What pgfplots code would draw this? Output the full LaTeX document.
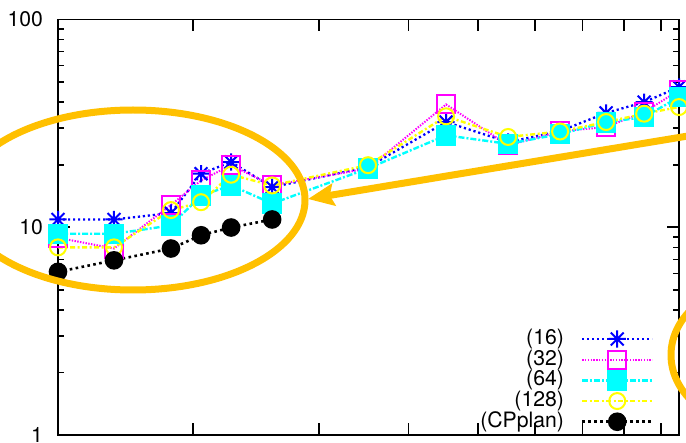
\documentclass[border=0pt]{standalone}
\usepackage{pgfplots}
\pgfplotsset{compat=1.18}
\usepackage{fontspec}
\setmainfont{TeX Gyre Heros}
\usetikzlibrary{arrows.meta}
\definecolor{orng}{RGB}{255,192,0}
\definecolor{gpblue}{RGB}{0,0,255}
\definecolor{gpmag}{RGB}{255,0,255}
\definecolor{gpcyan}{RGB}{0,255,255}
\definecolor{gpyel}{RGB}{255,255,0}
\pgfdeclareplotmark{gpstar}{%
  \pgfpathmoveto{\pgfqpoint{-\pgfplotmarksize}{0pt}}%
  \pgfpathlineto{\pgfqpoint{\pgfplotmarksize}{0pt}}%
  \pgfpathmoveto{\pgfqpoint{0pt}{-\pgfplotmarksize}}%
  \pgfpathlineto{\pgfqpoint{0pt}{\pgfplotmarksize}}%
  \pgfpathmoveto{\pgfqpoint{-.75\pgfplotmarksize}{-.75\pgfplotmarksize}}%
  \pgfpathlineto{\pgfqpoint{.75\pgfplotmarksize}{.75\pgfplotmarksize}}%
  \pgfpathmoveto{\pgfqpoint{-.75\pgfplotmarksize}{.75\pgfplotmarksize}}%
  \pgfpathlineto{\pgfqpoint{.75\pgfplotmarksize}{-.75\pgfplotmarksize}}%
  \pgfusepathqstroke}

\pgfplotstableread{
x       a     b     c     d
1.2954  10.9  8.9   9.3   8.0
1.551   10.9  7.9   9.3   8.0
1.863   11.7  12.8  10.2  12.1
2.052   18.1  16.8  14.2  13.2
2.260   20.6  19.9  15.9  17.9
2.579   15.6  15.9  13.0  15.9
3.511   19.5  19.2  19.2  19.9
4.512   32.1  39.0  27.7  34.2
5.508   25.7  24.8  25.2  27.2
6.510   29.0  28.9  28.1  28.9
7.548   35.5  30.4  32.0  32.1
8.530   40.0  35.8  33.9  35.2
9.542   47.3  45.6  42.3  37.9
}\datatab
\pgfplotstableread{
x       e
1.2954  6.1
1.551   6.93
1.863   7.9
2.052   9.15
2.260   9.97
2.579   10.9
}\cptab

\begin{document}
\begin{tikzpicture}
\begin{axis}[
  at={(29pt,-217.5pt)}, anchor=south west,
  scale only axis, width=310.5pt, height=207.75pt,
  xmode=log, ymode=log,
  xmin=1.2954, xmax=9.542, ymin=1, ymax=100,
  xtick={2,3,4,5,6,7,8,9}, xticklabels={}, minor xtick={},
  ytick={1,10,100}, yticklabels={1,10,100},
  minor ytick={2,3,4,5,6,7,8,9,20,30,40,50,60,70,80,90},
  major tick length=6pt, minor tick length=3pt,
  tick align=inside,
  every tick/.style={black, line width=0.8pt},
  axis line style={line width=0.8pt},
  tick label style={font=\fontsize{10.6}{12}\selectfont},
  yticklabel style={xshift=-4pt},
  /pgf/number format/assume math mode=true,
  clip=false,
  legend plot pos=right,
  legend cell align=right,
  legend image code/.code={\draw[mark repeat=2,mark phase=2] plot coordinates {(0pt,0pt) (17.5pt,0pt) (35pt,0pt)};},
  legend style={draw=none, fill=none, at={(0.959,0.007)}, anchor=south east,
    inner sep=0pt, outer sep=0pt, column sep=8.5pt, row sep=0pt,
    font=\fontsize{10.6}{12}\selectfont,
    nodes={inner xsep=0pt, inner ysep=0pt, text height=7.9pt, text depth=2.45pt}},
]
\addplot[gpblue, line width=1.15pt, dash pattern=on 1.1pt off 1.4pt,
  mark=gpstar, mark size=4.3pt, mark options={solid, line width=1pt}]
  table[x=x, y=a] {\datatab};
\addlegendentry{(16)}
\addplot[gpmag, line width=1pt, dash pattern=on 0.7pt off 0.7pt,
  mark=square, mark size=4.5pt, mark options={solid, line width=1pt}]
  table[x=x, y=b] {\datatab};
\addlegendentry{(32)}
\addplot[gpcyan, line width=1.2pt, dash pattern=on 3pt off 1pt on 1pt off 1pt,
  mark=square*, mark size=4.5pt, mark options={solid, fill=gpcyan}]
  table[x=x, y=c] {\datatab};
\addlegendentry{(64)}
\addplot[gpyel, line width=1.2pt, dash pattern=on 2.5pt off 1.25pt on 1pt off 1.25pt,
  mark=o, mark size=4pt, mark options={solid, line width=1pt}]
  table[x=x, y=d] {\datatab};
\addlegendentry{(128)}
\addplot[black, line width=1.3pt, dash pattern=on 1.3pt off 1.7pt,
  mark=*, mark size=4pt, mark options={solid, fill=black}]
  table[x=x, y=e] {\cptab};
\addlegendentry{(CPplan)}
\end{axis}
\begin{scope}[orng, line width=3.5pt]
  \draw (66.5pt,-100pt) ellipse [x radius=86pt, y radius=45pt];
  \draw (380.5pt,-177.5pt) ellipse [x radius=45pt, y radius=36pt];
  \draw[-{Stealth[length=13pt,width=11pt,inset=2pt]}] (350pt,-67pt) -- (154pt,-99.5pt);
\end{scope}
\pgfresetboundingbox
\path[use as bounding box] (0,0) rectangle (343pt,-221.5pt);
\end{tikzpicture}
\end{document}
